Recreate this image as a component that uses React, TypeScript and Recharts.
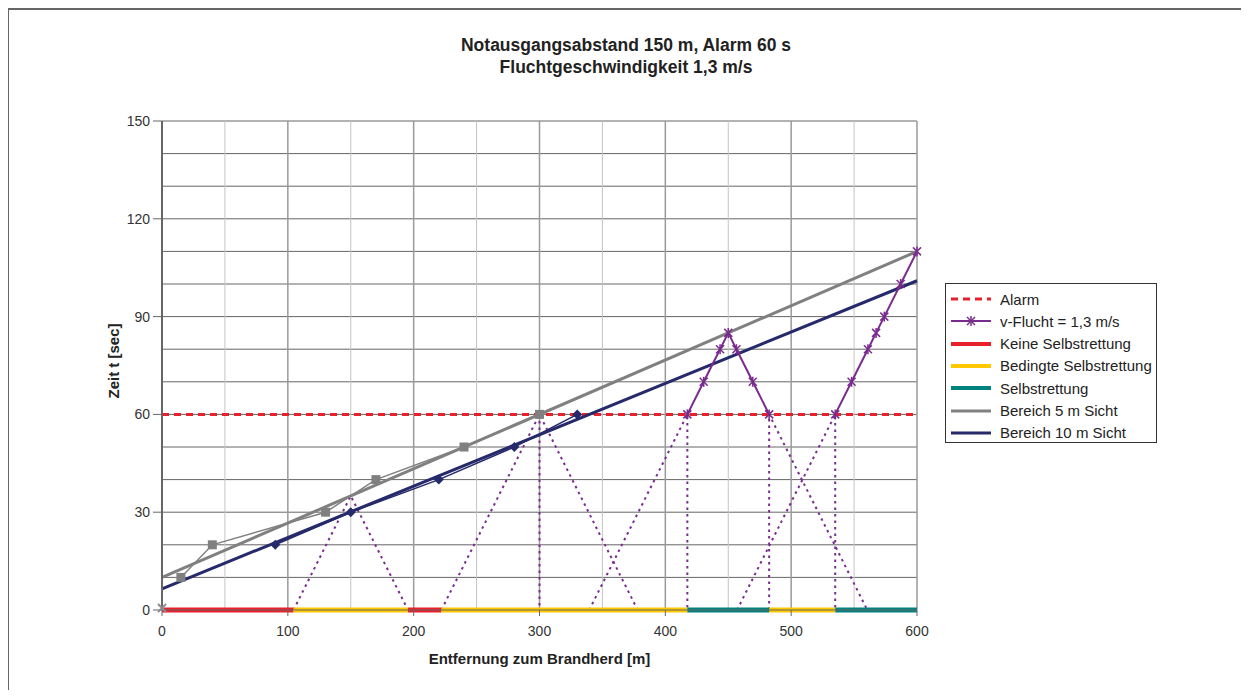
import React from 'react';
import { ComposedChart, Line, XAxis, YAxis, CartesianGrid } from 'recharts';

// Entfernung [m] / Zeit [s]
const xTicks = [0, 100, 200, 300, 400, 500, 600];
const yTicks = [0, 30, 60, 90, 120, 150];
const hGrid = [10, 20, 30, 40, 50, 60, 70, 80, 90, 100, 110, 120, 130, 140, 150];
const vGridMinor = [50, 150, 250, 350, 450, 550];
const vGridMajor = [100, 200, 300, 400, 500, 600];

const alarm = [
  { x: 0, t: 60 },
  { x: 600, t: 60 }
];

// v-Flucht, sichtbarer Teil oberhalb Alarm
const fluchtSolid = [
  { x: 417.5, t: 60 }, { x: 430.5, t: 70 }, { x: 443.5, t: 80 }, { x: 450, t: 85 },
  { x: 456.5, t: 80 }, { x: 469.5, t: 70 }, { x: 482.5, t: 60 },
  { x: 510, t: null },
  { x: 535, t: 60 }, { x: 548, t: 70 }, { x: 561, t: 80 }, { x: 567.5, t: 85 },
  { x: 574, t: 90 }, { x: 587, t: 100 }, { x: 600, t: 110 }
];

// Hilfslinien (gepunktet)
const fluchtDotted = [
  { x: 104.5, t: 0 }, { x: 150, t: 35 }, { x: 195.5, t: 0 },
  { x: 200, t: null },
  { x: 222, t: 0 }, { x: 300, t: 60 }, { x: 378, t: 0 },
  { x: 380, t: null },
  { x: 300, t: 60 }, { x: 300, t: 0 },
  { x: 310, t: null },
  { x: 339.5, t: 0 }, { x: 417.5, t: 60 }, { x: 417.5, t: 0 },
  { x: 420, t: null },
  { x: 482.5, t: 0 }, { x: 482.5, t: 60 }, { x: 560.5, t: 0 },
  { x: 565, t: null },
  { x: 457, t: 0 }, { x: 535, t: 60 }, { x: 535, t: 0 }
];

const keine = [
  { x: 0, t: 0 }, { x: 104.5, t: 0 },
  { x: 150, t: null },
  { x: 195.5, t: 0 }, { x: 222, t: 0 }
];
const bedingt = [
  { x: 104.5, t: 0 }, { x: 195.5, t: 0 },
  { x: 200, t: null },
  { x: 222, t: 0 }, { x: 417.5, t: 0 },
  { x: 450, t: null },
  { x: 482.5, t: 0 }, { x: 535, t: 0 }
];
const selbst = [
  { x: 417.5, t: 0 }, { x: 482.5, t: 0 },
  { x: 500, t: null },
  { x: 535, t: 0 }, { x: 600, t: 0 }
];

const sicht5Trend = [{ x: 0, t: 10 }, { x: 600, t: 110 }];
const sicht10Trend = [{ x: 0, t: 6.5 }, { x: 600, t: 101 }];
const sicht5Points = [
  { x: 15, t: 10 }, { x: 40, t: 20 }, { x: 130, t: 30 },
  { x: 170, t: 40 }, { x: 240, t: 50 }, { x: 300, t: 60 }
];
const sicht10Points = [
  { x: 90, t: 20 }, { x: 150, t: 30 }, { x: 220, t: 40 },
  { x: 280, t: 50 }, { x: 330, t: 60 }
];
const origin = [{ x: 0, t: 0 }];

const legendItems = [
  { name: 'Alarm', color: '#e8202a', dash: '7 5', width: 3, star: false },
  { name: 'v-Flucht = 1,3 m/s', color: '#7a2b8e', dash: '', width: 2, star: true },
  { name: 'Keine Selbstrettung', color: '#e8202a', dash: '', width: 4, star: false },
  { name: 'Bedingte Selbstrettung', color: '#ffc800', dash: '', width: 4, star: false },
  { name: 'Selbstrettung', color: '#00827f', dash: '', width: 4, star: false },
  { name: 'Bereich 5 m Sicht', color: '#808080', dash: '', width: 3, star: false },
  { name: 'Bereich 10 m Sicht', color: '#262a6b', dash: '', width: 3, star: false }
];

const font = '"Liberation Sans", Arial, sans-serif';

const Star = (props: any) => {
  const { cx, cy, key, color = '#7a2b8e' } = props;
  if (cx == null || cy == null || props.value == null) return <g key={key} />;
  const r = 4;
  return (
    <g key={key} stroke={color} strokeWidth={1.5}>
      <line x1={cx - r} y1={cy - r} x2={cx + r} y2={cy + r} />
      <line x1={cx - r} y1={cy + r} x2={cx + r} y2={cy - r} />
      <line x1={cx} y1={cy - r - 1} x2={cx} y2={cy + r + 1} />
    </g>
  );
};

const Square = (props: any) => {
  const { cx, cy, key } = props;
  if (cx == null || cy == null) return <g key={key} />;
  return <rect key={key} x={cx - 4.5} y={cy - 4.5} width={9} height={9} fill="#808080" />;
};

const Diamond = (props: any) => {
  const { cx, cy, key } = props;
  if (cx == null || cy == null) return <g key={key} />;
  return <path key={key} d={`M${cx},${cy - 5}L${cx + 5},${cy}L${cx},${cy + 5}L${cx - 5},${cy}Z`} fill="#262a6b" />;
};

const Cross = (props: any) => {
  const { cx, cy, key } = props;
  if (cx == null || cy == null) return <g key={key} />;
  const r = 4;
  return (
    <g key={key} stroke="#8c8c8c" strokeWidth={2}>
      <line x1={cx - r} y1={cy - r - 2} x2={cx + r} y2={cy + r - 2} />
      <line x1={cx - r} y1={cy + r - 2} x2={cx + r} y2={cy - r - 2} />
    </g>
  );
};

const Legend = () => (
  <div style={{
    position: 'absolute', left: 937, top: 275, width: 210, height: 158,
    border: '1px solid #333', background: '#fff', fontFamily: font, fontSize: 15, color: '#222'
  }}>
    {legendItems.map((it, i) => (
      <div key={it.name} style={{ position: 'absolute', left: 0, top: 5 + i * 22.3, height: 20, display: 'flex', alignItems: 'center' }}>
        <svg width={50} height={20}>
          <line x1={5} x2={45} y1={10} y2={10} stroke={it.color} strokeWidth={it.width} strokeDasharray={it.dash || undefined} />
          {it.star && <Star cx={25} cy={10} value={1} />}
        </svg>
        <span style={{ marginLeft: 4 }}>{it.name}</span>
      </div>
    ))}
  </div>
);

const App: React.FC = () => {
  return (
    <div style={{ position: 'relative', width: 1233, height: 682, fontFamily: font }}>
      <div style={{ position: 'absolute', left: -1, top: 0, width: 1234, height: 682, borderTop: '2px solid #666', borderLeft: '2px solid #666', boxSizing: 'border-box' }} />
      <div style={{ position: 'absolute', left: 0, top: 26, width: 1236, textAlign: 'center', fontWeight: 'bold', fontSize: 17.5, lineHeight: '22px', color: '#222' }}>
        Notausgangsabstand 150 m, Alarm 60 s<br />Fluchtgeschwindigkeit 1,3 m/s
      </div>
      <ComposedChart width={1233} height={682} margin={{ top: 113, right: 324, left: 94, bottom: 50 }}>
        <CartesianGrid vertical={false} horizontalValues={hGrid} stroke="#666666" strokeWidth={1} />
        <CartesianGrid horizontal={false} verticalValues={vGridMinor} stroke="#c4c4c4" strokeWidth={1} />
        <CartesianGrid horizontal={false} verticalValues={vGridMajor} stroke="#9a9a9a" strokeWidth={1.5} />
        <XAxis type="number" dataKey="x" domain={[0, 600]} ticks={xTicks}
          height={30} tickSize={6} tickMargin={10} axisLine={{ stroke: '#666' }} tickLine={{ stroke: '#666' }}
          tick={{ fontSize: 14, fill: '#333', fontFamily: font }} />
        <YAxis type="number" dataKey="t" domain={[0, 150]} ticks={yTicks}
          width={60} tickSize={9} tickMargin={3} axisLine={{ stroke: '#666', strokeWidth: 2 }} tickLine={{ stroke: '#666' }}
          tick={{ fontSize: 14, fill: '#333', fontFamily: font }} />
        <Line data={alarm} dataKey="t" stroke="#e8202a" strokeWidth={3} strokeDasharray="7 5" dot={false} isAnimationActive={false} />
        <Line data={fluchtDotted} dataKey="t" stroke="#7a2b8e" strokeWidth={2} strokeDasharray="2.5 4" dot={false} isAnimationActive={false} />
        <Line data={sicht5Trend} dataKey="t" stroke="#808080" strokeWidth={3} dot={false} isAnimationActive={false} />
        <Line data={sicht10Trend} dataKey="t" stroke="#262a6b" strokeWidth={3} dot={false} isAnimationActive={false} />
        <Line data={sicht5Points} dataKey="t" stroke="#808080" strokeWidth={1.5} dot={Square} isAnimationActive={false} />
        <Line data={sicht10Points} dataKey="t" stroke="#262a6b" strokeWidth={1.5} dot={Diamond} isAnimationActive={false} />
        <Line data={fluchtSolid} dataKey="t" stroke="#7a2b8e" strokeWidth={2} dot={Star} isAnimationActive={false} />
        <Line data={keine} dataKey="t" stroke="#e8202a" strokeWidth={5} dot={false} isAnimationActive={false} />
        <Line data={bedingt} dataKey="t" stroke="#ffc800" strokeWidth={5} dot={false} isAnimationActive={false} />
        <Line data={selbst} dataKey="t" stroke="#00827f" strokeWidth={5} dot={false} isAnimationActive={false} />
        <Line data={origin} dataKey="t" stroke="none" dot={Cross} isAnimationActive={false} />
      </ComposedChart>
      <div style={{ position: 'absolute', left: 94, top: 353, width: 20, height: 0 }}>
        <div style={{ position: 'absolute', left: 0, top: 0, transform: 'translate(-50%, -50%) rotate(-90deg)', whiteSpace: 'nowrap', fontWeight: 'bold', fontSize: 15, color: '#222', marginLeft: 11 }}>
          Zeit t [sec]
        </div>
      </div>
      <div style={{ position: 'absolute', left: 154, top: 642, width: 755, textAlign: 'center', fontWeight: 'bold', fontSize: 15, color: '#222' }}>
        Entfernung zum Brandherd [m]
      </div>
      <Legend />
    </div>
  );
};

export default App;
